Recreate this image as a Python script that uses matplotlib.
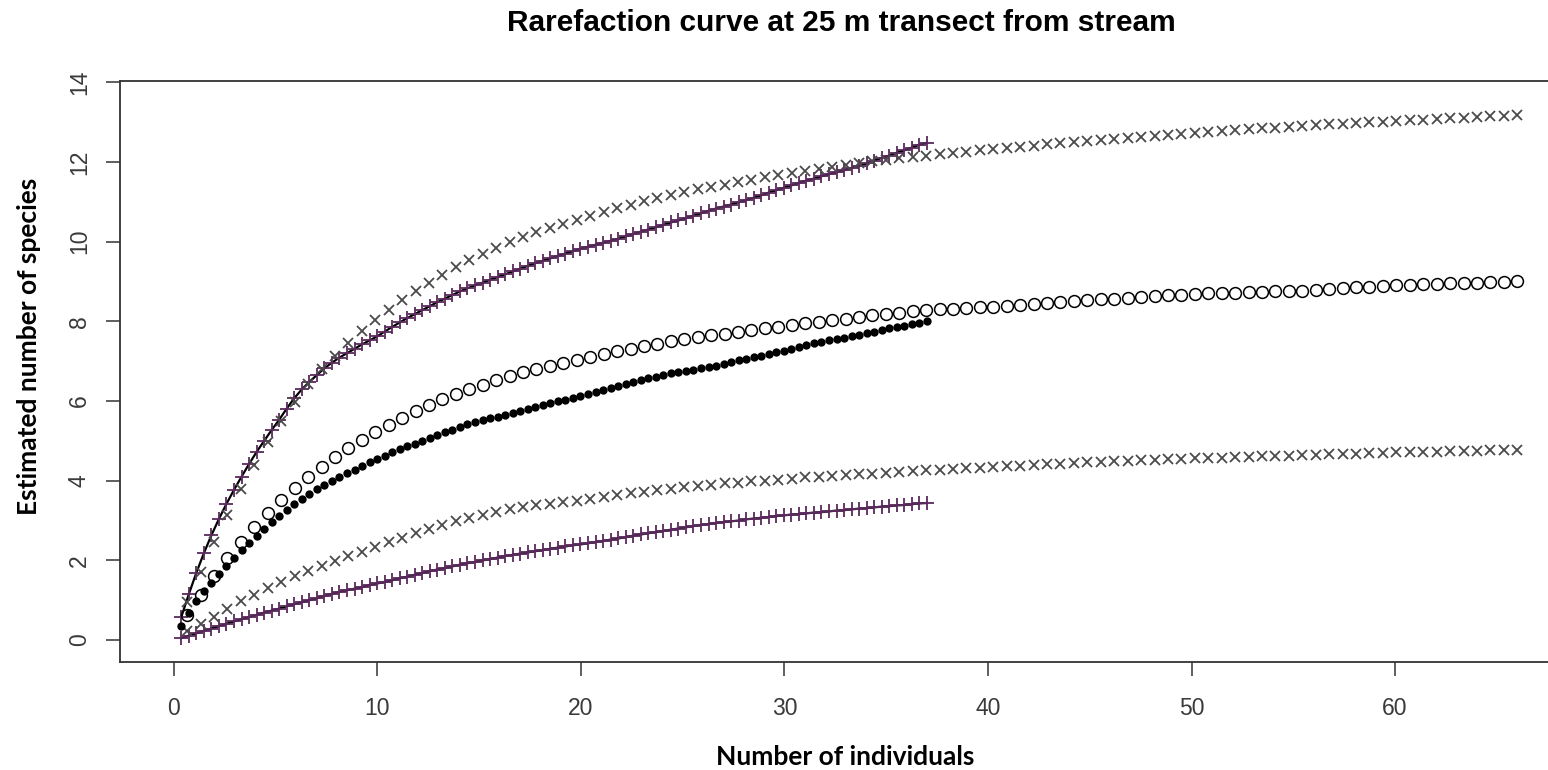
import numpy as np
import matplotlib
matplotlib.use("Agg")
import matplotlib.pyplot as plt

# sample sizes: 100 rarefaction steps for each transect sample
N_SMALL = 37
N_LARGE = 66
N_STEPS = 100

# sample of 37 individuals - expected richness (filled dots)
rich_37 = [0.35, 0.68, 0.97, 1.22, 1.44, 1.66, 1.87, 2.06, 2.25, 2.44,
           2.62, 2.79, 2.96, 3.12, 3.27, 3.42, 3.55, 3.67, 3.79, 3.90,
           4.00, 4.10, 4.19, 4.28, 4.38, 4.46, 4.55, 4.63, 4.71, 4.79,
           4.86, 4.93, 5.00, 5.07, 5.14, 5.21, 5.28, 5.35, 5.41, 5.47,
           5.52, 5.57, 5.61, 5.66, 5.70, 5.75, 5.80, 5.84, 5.89, 5.94,
           5.99, 6.03, 6.08, 6.13, 6.18, 6.23, 6.28, 6.33, 6.38, 6.43,
           6.48, 6.53, 6.57, 6.61, 6.65, 6.69, 6.72, 6.75, 6.79, 6.82,
           6.85, 6.89, 6.93, 6.97, 7.02, 7.06, 7.10, 7.14, 7.18, 7.22,
           7.26, 7.30, 7.35, 7.40, 7.45, 7.49, 7.52, 7.55, 7.58, 7.62,
           7.66, 7.70, 7.74, 7.78, 7.82, 7.86, 7.89, 7.93, 7.96, 8.00]

# upper / lower bounds for the 37 sample (+ markers)
upper_37 = [0.58, 1.15, 1.69, 2.18, 2.63, 3.04, 3.42, 3.77, 4.10, 4.42,
            4.72, 5.00, 5.27, 5.53, 5.81, 6.07, 6.29, 6.48, 6.65, 6.82,
            6.96, 7.09, 7.20, 7.31, 7.42, 7.52, 7.62, 7.74, 7.86, 7.97,
            8.08, 8.18, 8.28, 8.38, 8.48, 8.57, 8.66, 8.75, 8.83, 8.90,
            8.97, 9.04, 9.11, 9.18, 9.25, 9.32, 9.39, 9.46, 9.52, 9.58,
            9.64, 9.70, 9.76, 9.82, 9.87, 9.92, 9.97, 10.02, 10.07, 10.13,
            10.19, 10.25, 10.30, 10.36, 10.42, 10.48, 10.53, 10.59, 10.65, 10.71,
            10.77, 10.83, 10.88, 10.93, 10.99, 11.04, 11.10, 11.16, 11.23, 11.29,
            11.35, 11.41, 11.47, 11.53, 11.58, 11.64, 11.69, 11.74, 11.79, 11.85,
            11.90, 11.96, 12.03, 12.10, 12.16, 12.23, 12.29, 12.36, 12.43, 12.48]

lower_37 = [0.05, 0.11, 0.17, 0.23, 0.29, 0.35, 0.41, 0.47, 0.52, 0.58,
            0.63, 0.69, 0.74, 0.79, 0.85, 0.90, 0.95, 1.00, 1.05, 1.11,
            1.16, 1.21, 1.25, 1.29, 1.33, 1.38, 1.42, 1.46, 1.50, 1.55,
            1.59, 1.64, 1.68, 1.73, 1.77, 1.81, 1.85, 1.89, 1.93, 1.96,
            2.00, 2.03, 2.07, 2.11, 2.14, 2.17, 2.20, 2.23, 2.26, 2.29,
            2.32, 2.35, 2.38, 2.40, 2.43, 2.46, 2.49, 2.52, 2.55, 2.58,
            2.62, 2.65, 2.68, 2.71, 2.74, 2.77, 2.80, 2.83, 2.86, 2.89,
            2.91, 2.94, 2.96, 2.98, 3.00, 3.03, 3.05, 3.07, 3.09, 3.11,
            3.13, 3.15, 3.16, 3.18, 3.20, 3.21, 3.23, 3.25, 3.26, 3.28,
            3.30, 3.31, 3.33, 3.35, 3.36, 3.38, 3.39, 3.41, 3.43, 3.44]

# sample of 66 individuals - expected richness (open circles)
rich_66 = [0.62, 1.12, 1.62, 2.06, 2.47, 2.84, 3.19, 3.52, 3.81, 4.08,
           4.35, 4.60, 4.83, 5.03, 5.22, 5.40, 5.57, 5.74, 5.90, 6.04,
           6.17, 6.29, 6.41, 6.52, 6.63, 6.72, 6.80, 6.88, 6.95, 7.03,
           7.10, 7.18, 7.25, 7.31, 7.37, 7.44, 7.50, 7.56, 7.61, 7.65,
           7.69, 7.74, 7.78, 7.82, 7.86, 7.90, 7.95, 7.99, 8.03, 8.07,
           8.11, 8.15, 8.19, 8.22, 8.25, 8.28, 8.30, 8.32, 8.34, 8.35,
           8.37, 8.39, 8.41, 8.43, 8.46, 8.48, 8.51, 8.53, 8.55, 8.57,
           8.59, 8.61, 8.63, 8.65, 8.67, 8.69, 8.70, 8.71, 8.72, 8.73,
           8.74, 8.75, 8.76, 8.77, 8.79, 8.81, 8.83, 8.85, 8.87, 8.88,
           8.90, 8.92, 8.93, 8.94, 8.95, 8.96, 8.97, 8.98, 8.99, 9.00]

# upper / lower bounds for the 66 sample (x markers)
upper_66 = [0.95, 1.70, 2.45, 3.15, 3.80, 4.40, 4.97, 5.50, 5.98, 6.42,
            6.80, 7.13, 7.45, 7.75, 8.03, 8.29, 8.53, 8.75, 8.96, 9.17,
            9.37, 9.54, 9.70, 9.85, 9.99, 10.12, 10.24, 10.35, 10.45, 10.55,
            10.65, 10.75, 10.84, 10.93, 11.01, 11.09, 11.17, 11.25, 11.32, 11.38,
            11.43, 11.49, 11.55, 11.61, 11.67, 11.72, 11.77, 11.82, 11.87, 11.92,
            11.97, 12.02, 12.06, 12.10, 12.13, 12.16, 12.19, 12.22, 12.26, 12.29,
            12.32, 12.35, 12.38, 12.41, 12.44, 12.47, 12.50, 12.53, 12.56, 12.58,
            12.61, 12.63, 12.66, 12.68, 12.71, 12.73, 12.76, 12.78, 12.80, 12.82,
            12.84, 12.86, 12.88, 12.90, 12.92, 12.94, 12.96, 12.98, 13.00, 13.01,
            13.03, 13.04, 13.06, 13.08, 13.09, 13.11, 13.12, 13.14, 13.16, 13.17]

lower_66 = [0.22, 0.40, 0.59, 0.79, 0.97, 1.13, 1.30, 1.45, 1.60, 1.74,
            1.87, 1.99, 2.10, 2.22, 2.33, 2.45, 2.57, 2.68, 2.79, 2.89,
            2.98, 3.07, 3.15, 3.22, 3.28, 3.33, 3.38, 3.42, 3.46, 3.50,
            3.54, 3.59, 3.64, 3.68, 3.72, 3.76, 3.80, 3.83, 3.86, 3.90,
            3.93, 3.95, 3.98, 4.00, 4.02, 4.05, 4.08, 4.10, 4.12, 4.14,
            4.16, 4.18, 4.20, 4.22, 4.24, 4.26, 4.28, 4.30, 4.31, 4.33,
            4.35, 4.36, 4.38, 4.39, 4.41, 4.42, 4.44, 4.46, 4.47, 4.49,
            4.50, 4.51, 4.53, 4.54, 4.55, 4.56, 4.57, 4.58, 4.59, 4.60,
            4.61, 4.62, 4.63, 4.64, 4.65, 4.66, 4.67, 4.68, 4.69, 4.70,
            4.71, 4.72, 4.73, 4.73, 4.74, 4.75, 4.75, 4.76, 4.77, 4.77]

x_ticks = [0, 10, 20, 30, 40, 50, 60]
y_ticks = [0, 2, 4, 6, 8, 10, 12, 14]


def main():
    x37 = np.arange(1, N_STEPS + 1) * N_SMALL / N_STEPS
    x66 = np.arange(1, N_STEPS + 1) * N_LARGE / N_STEPS

    fig = plt.figure(figsize=(15.48, 7.70), dpi=100)
    # plot region runs off the right edge like the original export
    ax = fig.add_axes([120 / 1548, 108 / 770, 1451 / 1548, 581 / 770])

    plus_col = "#5a2a5c"
    x_col = "#4a4a4a"

    ax.plot(x37, upper_37, color="black", lw=1.6, zorder=2)
    ax.plot(x37, lower_37, color="black", lw=1.6, zorder=2)
    ax.plot(x37, upper_37, ls="none", marker="+", ms=10, mew=1.3,
            color=plus_col, zorder=3)
    ax.plot(x37, lower_37, ls="none", marker="+", ms=10, mew=1.3,
            color=plus_col, zorder=3)

    ax.plot(x66, upper_66, ls="none", marker="x", ms=7.5, mew=1.3,
            color=x_col, zorder=3)
    ax.plot(x66, lower_66, ls="none", marker="x", ms=7.5, mew=1.3,
            color=x_col, zorder=3)

    ax.plot(x66, rich_66, ls="none", marker="o", ms=8.5, mew=1.1,
            mfc="none", mec="black", zorder=4)
    ax.plot(x37, rich_37, ls="none", marker="o", ms=6, mew=0,
            color="black", zorder=5)

    ax.set_xlim(-2.64, 68.64)
    ax.set_ylim(-0.55, 14.03)

    ax.set_xticks(x_ticks)
    ax.set_yticks(y_ticks)
    ax.set_xticklabels([str(v) for v in x_ticks], family="Liberation Sans",
                       fontsize=16.5, color="#3a3a3a")
    ax.set_yticklabels([str(v) for v in y_ticks], family="Liberation Sans",
                       fontsize=16.5, color="#3a3a3a", rotation=90, va="center")
    ax.tick_params(direction="out", length=10, width=1.1, color="#333333", pad=15)
    ax.tick_params(axis="y", pad=11)
    for side in ["left", "bottom", "top", "right"]:
        ax.spines[side].set_color("#333333")
        ax.spines[side].set_linewidth(1.3)

    fig.text(0.5437, 0.970, "Rarefaction curve at 25 m transect from stream",
             ha="center", va="center", family=["Liberation Sans", "DejaVu Sans"],
             fontweight="bold", fontsize=21.5)
    fig.text(0.546, 0.017, "Number of individuals", ha="center", va="center",
             family=["Lato", "DejaVu Sans"], fontweight="bold", fontsize=19)
    fig.text(0.019, 0.55, "Estimated number of species", ha="center", va="center",
             rotation=90, family=["Lato", "DejaVu Sans"], fontweight="bold", fontsize=19)

    fig.savefig("out.png", dpi=100)


if (__name__ == "__main__"):
    main()
